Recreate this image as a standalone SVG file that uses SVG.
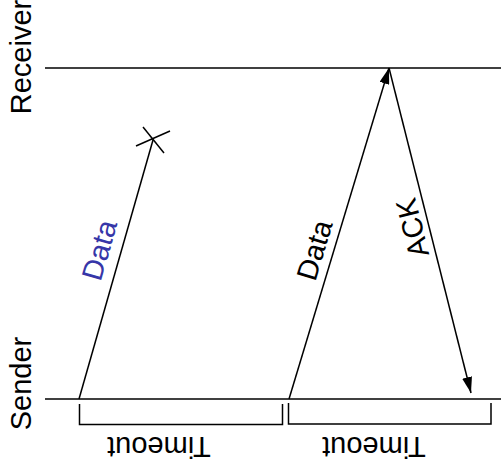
<svg xmlns="http://www.w3.org/2000/svg" width="501" height="474" viewBox="0 0 501 474">
<style>
.ln{stroke:#000;stroke-width:1.5;fill:none}
.t{font-family:"Liberation Sans",Arial,sans-serif;font-size:29px;fill:#000;text-anchor:middle}
.blue{fill:#3636a8}
</style>
<defs>
<marker id="ah" viewBox="0 0 16 10" refX="16" refY="5" markerWidth="16" markerHeight="10" markerUnits="userSpaceOnUse" orient="auto">
<path d="M0,0 L16,5 L0,10 Z" fill="#000"/>
</marker>
</defs>
<g id="receiver">
<line class="ln" x1="45" y1="68" x2="501" y2="68"/>
<text class="t" transform="translate(21,57) rotate(-90)" dy="0.36em">Receiver</text>
</g>
<g id="sender">
<line class="ln" x1="45" y1="399" x2="501" y2="399"/>
<text class="t" transform="translate(21,383.5) rotate(-90)" dy="0.36em">Sender</text>
</g>
<g id="timeout1">
<path class="ln" d="M79.5,404 V424.5 H282.5 V404"/>
<text class="t" transform="translate(159,447) rotate(180)" dy="0.36em">Timeout</text>
</g>
<g id="timeout2">
<path class="ln" d="M288.5,403 V424 H491 V403"/>
<text class="t" transform="translate(374,447) rotate(180)" dy="0.36em">Timeout</text>
</g>
<g id="connectors">
<line class="ln" x1="79" y1="399" x2="153" y2="140"/>
<line class="ln" x1="136" y1="146" x2="170" y2="131"/>
<line class="ln" x1="143" y1="127" x2="164" y2="153"/>
<line class="ln" x1="289" y1="399" x2="389" y2="68" marker-end="url(#ah)"/>
<line class="ln" x1="389" y1="68" x2="471" y2="393" marker-end="url(#ah)"/>
</g>
<g id="labels">
<text class="t blue" transform="translate(99,250) rotate(-74)" dy="0.36em">Data</text>
<text class="t" transform="translate(314,250) rotate(-73.2)" dy="0.36em">Data</text>
<text class="t" transform="translate(412,228) rotate(-104)" dy="0.36em">ACK</text>
</g>
</svg>
